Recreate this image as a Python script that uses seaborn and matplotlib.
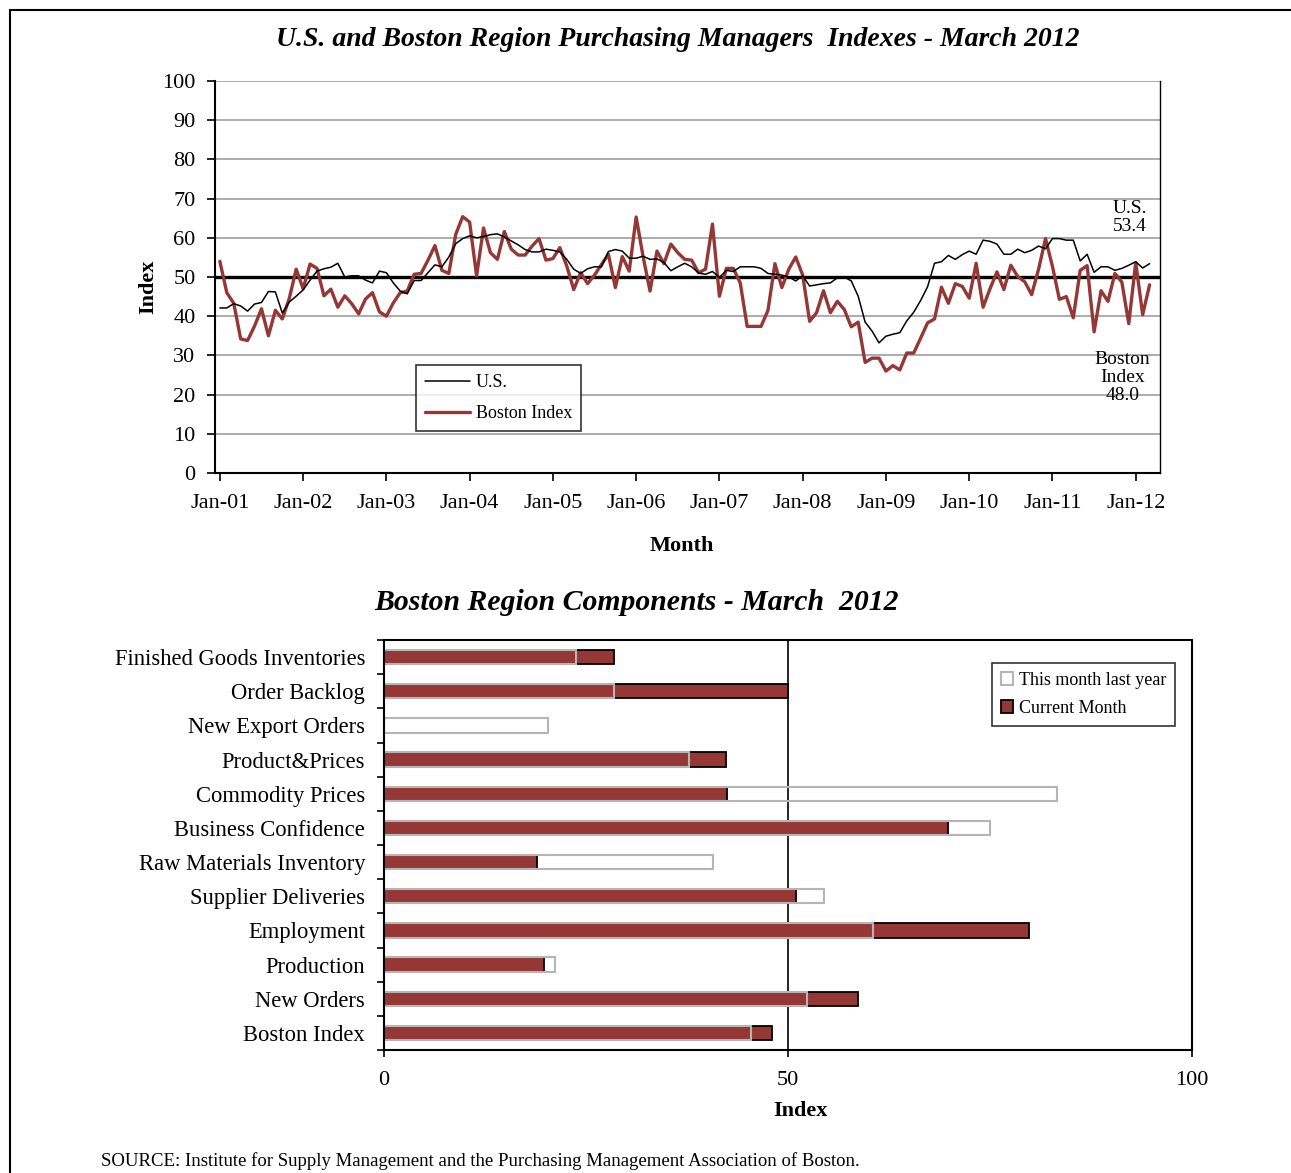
import numpy as np
import pandas as pd
import seaborn as sns
import matplotlib.pyplot as plt
from matplotlib.lines import Line2D
from matplotlib.patches import Patch, Rectangle

sns.set_style('ticks')
plt.rcParams['font.family'] = ['Liberation Serif', 'DejaVu Serif']
plt.rcParams.update({'text.color': 'black', 'axes.labelcolor': 'black',
                     'xtick.color': 'black', 'ytick.color': 'black',
                     'axes.edgecolor': 'black'})

RED = '#953735'

# monthly index values, Jan-01 .. Mar-12
us_pmi = [42.1, 42.1, 43.2, 42.6, 41.3, 43.1, 43.5, 46.3, 46.2, 40.8, 43.6, 45.1,
          46.7, 49.2, 51.5, 52.1, 52.5, 53.5, 50.0, 50.3, 50.3, 49.2, 48.5, 51.5,
          51.1, 48.5, 46.4, 45.7, 49.1, 49.1, 51.1, 53.1, 52.6, 55.1, 58.5, 59.8,
          60.5, 60.0, 60.3, 60.8, 61.0, 60.2, 59.2, 58.2, 57.0, 56.4, 56.4, 57.1,
          56.8, 56.4, 54.5, 52.0, 50.9, 52.1, 52.6, 52.6, 56.5, 57.0, 56.6, 54.8,
          54.8, 55.3, 54.5, 54.6, 53.7, 51.6, 52.6, 53.5, 52.6, 51.0, 50.7, 51.4,
          49.9, 51.7, 51.4, 52.6, 52.6, 52.6, 52.2, 50.9, 50.7, 50.5, 50.0, 49.0,
          50.3, 47.7, 48.0, 48.3, 48.5, 49.8, 50.0, 49.0, 45.1, 38.5, 36.2, 33.2,
          34.9, 35.4, 35.8, 38.8, 41.0, 44.0, 47.5, 53.5, 53.9, 55.5, 54.5, 55.7,
          56.6, 55.8, 59.4, 59.1, 58.4, 55.8, 55.8, 57.1, 56.2, 56.8, 57.9, 57.2,
          59.8, 59.8, 59.4, 59.4, 54.1, 55.8, 51.2, 52.6, 52.6, 51.7, 52.2, 53.0,
          53.9, 52.3, 53.4]

boston_pmi = [54.0, 46.0, 43.3, 34.2, 33.8, 37.5, 41.9, 35.0, 41.5, 39.3, 44.5, 52.0,
              47.0, 53.3, 52.2, 45.2, 46.9, 42.3, 45.2, 43.2, 40.6, 44.4, 46.0, 41.1,
              40.0, 43.4, 46.0, 46.4, 50.7, 50.9, 54.3, 58.0, 51.7, 50.9, 60.9, 65.4,
              64.0, 50.3, 62.5, 56.2, 54.5, 61.6, 57.1, 55.6, 55.6, 57.9, 59.8, 54.3,
              54.7, 57.5, 52.8, 46.8, 51.1, 48.3, 50.5, 53.2, 55.8, 47.3, 55.2, 51.5,
              65.3, 55.2, 46.4, 56.6, 53.4, 58.4, 56.2, 54.5, 54.3, 51.1, 52.0, 63.5,
              45.1, 52.2, 52.2, 48.5, 37.4, 37.4, 37.4, 41.5, 53.4, 47.3, 52.0, 55.1,
              50.5, 38.7, 40.9, 46.5, 40.9, 43.8, 41.7, 37.3, 38.5, 28.2, 29.3, 29.3,
              26.0, 27.4, 26.3, 30.6, 30.6, 34.4, 38.3, 39.3, 47.4, 43.3, 48.3, 47.6,
              44.6, 53.5, 42.3, 47.0, 51.3, 46.8, 53.0, 50.1, 48.8, 45.5, 52.0, 59.8,
              52.7, 44.3, 45.0, 39.6, 51.7, 52.9, 36.0, 46.5, 43.8, 50.9, 48.7, 38.1,
              53.7, 40.4, 48.0]

year_labels = ['Jan-01', 'Jan-02', 'Jan-03', 'Jan-04', 'Jan-05', 'Jan-06',
               'Jan-07', 'Jan-08', 'Jan-09', 'Jan-10', 'Jan-11', 'Jan-12']

components = ['Finished Goods Inventories', 'Order Backlog', 'New Export Orders',
              'Product&Prices', 'Commodity Prices', 'Business Confidence',
              'Raw Materials Inventory', 'Supplier Deliveries', 'Employment',
              'Production', 'New Orders', 'Boston Index']
last_year = [23.8, 28.5, 20.3, 37.7, 83.3, 75.0, 40.7, 54.5, 60.5, 21.2, 52.4, 45.4]
current_month = [28.5, 50.0, 0.0, 42.3, 42.4, 69.8, 18.9, 51.0, 79.8, 19.8, 58.7, 48.0]

W, H = 1291, 1173
fig = plt.figure(figsize=(W / 100, H / 100), dpi=100)

# ---------- top: line chart ----------
ax1 = fig.add_axes([215 / W, 1 - 473 / H, (1160 - 215) / W, 392 / H])
df = pd.DataFrame({'month': np.arange(len(us_pmi)), 'U.S.': us_pmi,
                   'Boston Index': boston_pmi})
for v in range(10, 101, 10):
    if v != 50:
        ax1.axhline(v, color='#a6a6a6', lw=1.3, zorder=0)
ax1.axhline(50, color='black', lw=2.4, zorder=1)
sns.lineplot(data=df, x='month', y='U.S.', color='black', lw=1.1, ax=ax1, zorder=3)
sns.lineplot(data=df, x='month', y='Boston Index', color=RED, lw=2.4, ax=ax1, zorder=2)

ax1.set_xlim(-0.7, 135.5)
ax1.set_ylim(0, 100)
ax1.set_yticks(range(0, 101, 10))
ax1.set_xticks(range(0, 133, 12))
ax1.set_xticklabels(year_labels)
ax1.tick_params(axis='both', labelsize=16, direction='out', length=6, width=1.2)
ax1.tick_params(axis='x', pad=9)
ax1.tick_params(axis='y', pad=8)
ax1.spines['top'].set_visible(False)
for s in ['left', 'bottom']:
    ax1.spines[s].set_linewidth(1.5)
ax1.spines['right'].set_linewidth(1.0)
ax1.set_xlabel('Month', fontsize=16, fontweight='bold')
ax1.xaxis.set_label_coords((682 - 215) / 945, (473 - 536) / 392)
ax1.set_ylabel('Index', fontsize=16, fontweight='bold')
ax1.yaxis.set_label_coords((158 - 215) / 945, (473 - 287) / 392)

ax1.text(131.2, 65.2, 'U.S.\n53.4', fontsize=14, ha='center', va='center', linespacing=1.1)
ax1.text(130.1, 24.4, 'Boston\nIndex\n48.0', fontsize=14, ha='center', va='center', linespacing=1.1)

h1 = [Line2D([], [], color='black', lw=1.1), Line2D([], [], color=RED, lw=2.4)]
leg1 = ax1.legend(h1, ['U.S.', 'Boston Index'], loc='lower left',
                  bbox_to_anchor=((416 - 215) / 945, (473 - 431) / 392),
                  borderaxespad=0, fontsize=13, frameon=True, fancybox=False,
                  handlelength=2.5, handletextpad=0.3, labelspacing=0.75,
                  borderpad=0.5)
leg1.get_frame().set_edgecolor('black')
leg1.get_frame().set_linewidth(1.2)

fig.text(678 / W, 1 - 39 / H,
         'U.S. and Boston Region Purchasing Managers  Indexes - March 2012',
         fontsize=20, fontweight='bold', fontstyle='italic', ha='center', va='center')

# ---------- bottom: component bars ----------
ax2 = fig.add_axes([384 / W, 1 - 1050 / H, 808 / W, 410 / H])
sns.barplot(x=current_month, y=components, color=RED, edgecolor='black',
            linewidth=1.3, width=0.42, orient='h', errorbar=None, ax=ax2,
            saturation=1)
sns.barplot(x=last_year, y=components, color='#b5b5b5', fill=False,
            linewidth=1.5, width=0.42, orient='h', errorbar=None, ax=ax2)
ax2.axvline(50, color='black', lw=1.2, zorder=0.5)
ax2.set_xlim(0, 100)
ax2.set_ylim(11.5, -0.5)
ax2.set_xticks([0, 50, 100])
ax2.set_yticks(np.arange(-0.5, 12, 1), minor=True)
ax2.tick_params(axis='y', which='major', length=0, pad=13.5, labelsize=16.3)
ax2.tick_params(axis='y', which='minor', length=5, width=1.2, direction='out')
ax2.tick_params(axis='x', labelsize=16, length=5, width=1.2, direction='out', pad=10)
for s in ax2.spines.values():
    s.set_visible(True)
    s.set_linewidth(1.5)
    s.set_color('black')
ax2.set_xlabel('Index', fontsize=16, fontweight='bold')
ax2.xaxis.set_label_coords((800 - 384) / 808, (1050 - 1101) / 410)
ax2.set_ylabel('')

h2 = [Patch(facecolor='white', edgecolor='#b5b5b5', lw=1.5),
      Patch(facecolor=RED, edgecolor='black', lw=1.3)]
leg2 = ax2.legend(h2, ['This month last year', 'Current Month'], loc='upper right',
                  bbox_to_anchor=((1175 - 384) / 808, (1050 - 663) / 410),
                  borderaxespad=0, fontsize=13, frameon=True, fancybox=False,
                  handlelength=0.7, handleheight=0.7, handletextpad=0.3,
                  labelspacing=0.6, borderpad=0.5)
leg2.get_frame().set_edgecolor('black')
leg2.get_frame().set_linewidth(1.2)

fig.text(637 / W, 1 - 602 / H, 'Boston Region Components - March  2012',
         fontsize=21.4, fontweight='bold', fontstyle='italic', ha='center', va='center')

fig.text(101 / W, 1 - 1161 / H,
         'SOURCE: Institute for Supply Management and the Purchasing Management Association of Boston.',
         fontsize=13.5, ha='left', va='center')

# outer frame (left and top edges visible)
fig.add_artist(Rectangle((10 / W, -0.05), 1.2, 1.05 - 10 / H, fill=False,
                         lw=1.5, edgecolor='black', transform=fig.transFigure))

fig.savefig('out.png', dpi=100)
